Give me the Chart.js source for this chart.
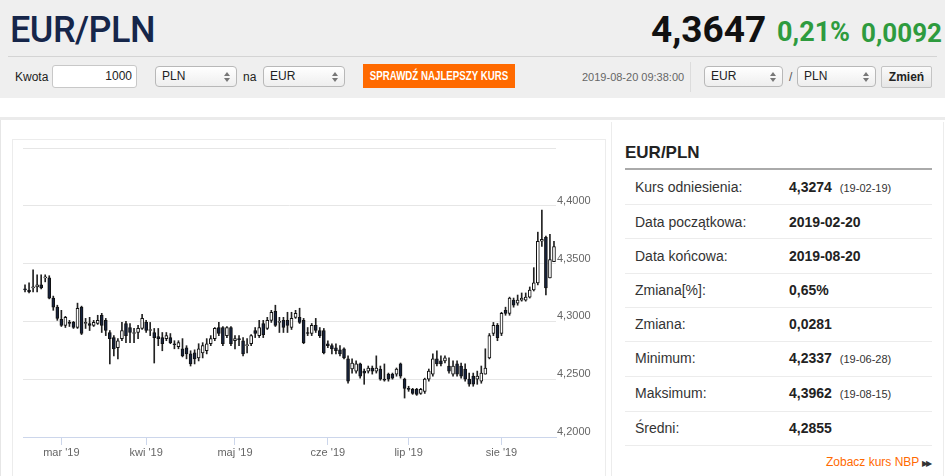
<!DOCTYPE html>
<html lang="pl">
<head>
<meta charset="utf-8">
<script src="https://cdn.jsdelivr.net/npm/chart.js@4.4.1/dist/chart.umd.min.js"></script>
<style>
  body{margin:0;width:945px;height:476px;overflow:hidden;background:#fff;position:relative;
       font-family:'Liberation Sans',Arial,sans-serif;color:#333}
  .abs{position:absolute}
  #head{left:0;top:0;width:945px;height:98px;background:#efefef}
  .big{font-family:Roboto,'Liberation Sans',sans-serif;line-height:1;white-space:nowrap}
  .sel{position:absolute;height:21px;border:1px solid #b8b8b8;border-radius:4px;box-sizing:border-box;
       background:linear-gradient(#ffffff,#eeeeee);font-size:12px;line-height:19px;padding-left:6px;color:#222}
  .sel::before,.sel::after{content:'';position:absolute;right:6px;border-left:3px solid transparent;border-right:3px solid transparent}
  .sel::before{top:5px;border-bottom:4px solid #777}
  .sel::after{top:11px;border-top:4px solid #777}
  .lbl{font-size:12px;line-height:14px;color:#222}
  .row-l{position:absolute;left:635px;font-size:14px;line-height:18px;color:#333}
  .row-v{position:absolute;left:789px;font-size:14px;line-height:18px;font-weight:bold;color:#222}
  .row-v small{font-size:11px;font-weight:normal;color:#333;margin-left:8px}
  .sep{position:absolute;left:625px;width:307px;height:1px;background:#ececec}
</style>
</head>
<body>
<div id="head" class="abs"></div>
<div class="abs big" style="left:10px;top:12px;font-size:36px;font-weight:500;color:#16264a;letter-spacing:-0.5px">EUR/PLN</div>
<div class="abs big" style="left:651px;top:11px;font-size:37px;font-weight:700;color:#111">4,3647</div>
<div class="abs big" style="left:777px;top:19px;font-size:27px;font-weight:700;color:#2e9b3e">0,21%</div>
<div class="abs big" style="left:861px;top:20px;font-size:26px;font-weight:700;color:#2e9b3e">0,0092</div>
<div class="abs" style="left:8px;top:56px;width:929px;height:1px;background:#d4d4d4"></div>

<div class="abs lbl" style="left:15px;top:70px">Kwota</div>
<div class="abs" style="left:52px;top:65px;width:85px;height:23px;box-sizing:border-box;border:1px solid #c8c8c8;border-radius:3px;background:#fff;font-size:12px;line-height:21px;text-align:right;padding-right:4px;color:#222">1000</div>
<div class="sel" style="left:155px;top:66px;width:82px">PLN</div>
<div class="abs lbl" style="left:243px;top:70px">na</div>
<div class="sel" style="left:263px;top:66px;width:82px">EUR</div>
<div class="abs" style="left:363px;top:64px;width:152px;height:24px;background:#ff6a00;overflow:hidden">
  <span style="position:absolute;left:50%;top:0;line-height:24px;white-space:nowrap;color:#fff;font-size:12px;font-weight:bold;transform:translateX(-50%) scaleX(0.81)">SPRAWDŹ NAJLEPSZY KURS</span>
</div>
<div class="abs" style="left:582px;top:71px;font-size:11px;line-height:13px;color:#666">2019-08-20 09:38:00</div>
<div class="abs" style="left:690px;top:62px;width:1px;height:30px;background:#dcdcdc"></div>
<div class="sel" style="left:704px;top:66px;width:79px">EUR</div>
<div class="abs lbl" style="left:789px;top:70px;color:#555">/</div>
<div class="sel" style="left:797px;top:66px;width:79px">PLN</div>
<div class="abs" style="left:881px;top:66px;width:51px;height:22px;box-sizing:border-box;border:1px solid #c4c4c4;border-radius:2px;background:linear-gradient(#fafafa,#e6e6e6);font-size:12px;font-weight:bold;line-height:20px;text-align:center;color:#222">Zmień</div>

<div class="abs" style="left:0;top:117px;width:945px;height:3px;background:#ebebeb"></div>
<div class="abs" style="left:0;top:120px;width:1px;height:356px;background:#e6e6e6"></div>
<div class="abs" style="left:12px;top:139px;width:594px;height:340px;box-sizing:border-box;border:1px solid #ececec;border-bottom:none"></div>
<canvas id="c" class="abs" width="594" height="330" style="left:12px;top:139px;width:594px;height:330px"></canvas>

<div class="abs" style="left:611px;top:122px;width:1px;height:354px;background:#ececec"></div>
<div class="abs" style="left:943px;top:122px;width:1px;height:354px;background:#ececec"></div>
<div class="abs" style="left:625px;top:143px;font-size:17px;line-height:20px;font-weight:bold;color:#222">EUR/PLN</div>
<div class="abs" style="left:625px;top:168px;width:307px;height:2px;background:#aaaaaa"></div>

<div class="row-l" style="top:178px">Kurs odniesienia:</div><div class="row-v" style="top:178px">4,3274<small>(19-02-19)</small></div>
<div class="sep" style="top:204px"></div>
<div class="row-l" style="top:213px">Data początkowa:</div><div class="row-v" style="top:213px">2019-02-20</div>
<div class="sep" style="top:238px"></div>
<div class="row-l" style="top:247px">Data końcowa:</div><div class="row-v" style="top:247px">2019-08-20</div>
<div class="sep" style="top:273px"></div>
<div class="row-l" style="top:281px">Zmiana[%]:</div><div class="row-v" style="top:281px">0,65%</div>
<div class="sep" style="top:307px"></div>
<div class="row-l" style="top:315px">Zmiana:</div><div class="row-v" style="top:315px">0,0281</div>
<div class="sep" style="top:341px"></div>
<div class="row-l" style="top:349px">Minimum:</div><div class="row-v" style="top:349px">4,2337<small>(19-06-28)</small></div>
<div class="sep" style="top:376px"></div>
<div class="row-l" style="top:384px">Maksimum:</div><div class="row-v" style="top:384px">4,3962<small>(19-08-15)</small></div>
<div class="sep" style="top:411px"></div>
<div class="row-l" style="top:419px">Średni:</div><div class="row-v" style="top:419px">4,2855</div>
<div class="sep" style="top:445px"></div>
<div class="abs" style="left:826px;top:455px;font-size:12px;line-height:14px;color:#ff6a00;white-space:nowrap">Zobacz kurs NBP <span style="color:#333;font-size:8px;letter-spacing:-2px">▶▶</span></div>

<script>
// trading days 2019-02-18 .. 2019-08-20 (weekdays)
const START = '2019-02-18', END = '2019-08-20';
const DATES = [];
for (let d = new Date(START + 'T00:00:00Z'); d <= new Date(END + 'T00:00:00Z'); d.setUTCDate(d.getUTCDate() + 1)) {
  const wd = d.getUTCDay();
  if (wd !== 0 && wd !== 6) DATES.push(d.toISOString().slice(0, 10));
}

const MONTH_STARTS = ['2019-03-01','2019-04-01','2019-05-01','2019-06-03','2019-07-01','2019-08-01'];
const MONTH_LABELS = ["mar '19","kwi '19","maj '19","cze '19","lip '19","sie '19"];

const OPEN = [
  4.3281,4.3272,4.3289,4.3298,4.3316,4.3377,4.3377,4.3202,4.3123,4.3018,
  4.2965,4.2991,4.2991,4.2947,4.3123,4.2982,4.2982,4.2965,4.2982,4.3053,
  4.3009,4.2904,4.2860,4.2772,4.2851,4.2982,4.2947,4.2895,4.2904,4.2939,
  4.2991,4.2921,4.2904,4.2868,4.2860,4.2851,4.2860,4.2807,4.2781,4.2763,
  4.2772,4.2719,4.2728,4.2684,4.2728,4.2746,4.2807,4.2851,4.2947,4.2947,
  4.2877,4.2947,4.2833,4.2851,4.2833,4.2790,4.2807,4.2921,4.2877,4.2982,
  4.2939,4.3009,4.3088,4.2991,4.3009,4.3009,4.2947,4.3035,4.3035,4.3009,
  4.2904,4.2895,4.2965,4.2921,4.2921,4.2807,4.2790,4.2772,4.2754,4.2763,
  4.2676,4.2588,4.2570,4.2632,4.2570,4.2570,4.2597,4.2570,4.2588,4.2500,
  4.2544,4.2544,4.2544,4.2632,4.2500,4.2421,4.2412,4.2412,4.2377,4.2395,
  4.2500,4.2544,4.2676,4.2658,4.2658,4.2614,4.2544,4.2632,4.2614,4.2588,
  4.2500,4.2526,4.2500,4.2483,4.2544,4.2684,4.2895,4.2965,4.2895,4.3096,
  4.3070,4.3184,4.3158,4.3184,4.3184,4.3210,4.3272,4.3333,4.3693,4.3728,
  4.3377,4.3517
];
const HIGH = [
  4.3316,4.3333,4.3447,4.3403,4.3403,4.3403,4.3395,4.3219,4.3140,4.3096,
  4.3044,4.3009,4.3000,4.3158,4.3132,4.3026,4.3035,4.3009,4.3053,4.3070,
  4.3026,4.2921,4.2877,4.2851,4.2991,4.3000,4.2982,4.2939,4.2965,4.3061,
  4.3009,4.2991,4.2939,4.2939,4.2904,4.2904,4.2895,4.2833,4.2833,4.2851,
  4.2790,4.2746,4.2754,4.2807,4.2816,4.2851,4.2877,4.2947,4.2991,4.2956,
  4.2956,4.2956,4.2877,4.2877,4.2860,4.2851,4.2886,4.2947,4.3009,4.3009,
  4.3035,4.3096,4.3140,4.3035,4.3035,4.3079,4.3079,4.3096,4.3114,4.3026,
  4.2947,4.2982,4.3026,4.2947,4.2939,4.2833,4.2807,4.2807,4.2790,4.2772,
  4.2702,4.2676,4.2658,4.2640,4.2588,4.2614,4.2614,4.2702,4.2614,4.2632,
  4.2553,4.2553,4.2597,4.2640,4.2509,4.2439,4.2421,4.2421,4.2421,4.2509,
  4.2588,4.2719,4.2746,4.2702,4.2702,4.2684,4.2658,4.2658,4.2640,4.2632,
  4.2553,4.2553,4.2570,4.2614,4.2763,4.2895,4.2991,4.2982,4.3079,4.3123,
  4.3210,4.3202,4.3228,4.3246,4.3246,4.3298,4.3465,4.3772,4.3962,4.3737,
  4.3754,4.3693
];
const LOW = [
  4.3254,4.3246,4.3254,4.3254,4.3281,4.3342,4.3195,4.3096,4.3009,4.2956,
  4.2947,4.2956,4.2939,4.2939,4.2886,4.2939,4.2921,4.2956,4.2974,4.2904,
  4.2877,4.2632,4.2702,4.2676,4.2833,4.2816,4.2816,4.2816,4.2851,4.2930,
  4.2904,4.2877,4.2640,4.2790,4.2746,4.2833,4.2807,4.2763,4.2763,4.2693,
  4.2676,4.2614,4.2632,4.2658,4.2684,4.2719,4.2790,4.2833,4.2877,4.2790,
  4.2860,4.2790,4.2763,4.2790,4.2702,4.2728,4.2790,4.2860,4.2860,4.2860,
  4.2930,4.2991,4.2956,4.2904,4.2904,4.2904,4.2930,4.3026,4.2982,4.2807,
  4.2877,4.2877,4.2904,4.2860,4.2719,4.2772,4.2719,4.2719,4.2702,4.2676,
  4.2465,4.2553,4.2553,4.2509,4.2456,4.2553,4.2544,4.2553,4.2491,4.2483,
  4.2483,4.2500,4.2526,4.2509,4.2337,4.2395,4.2369,4.2360,4.2369,4.2377,
  4.2483,4.2526,4.2614,4.2614,4.2640,4.2553,4.2526,4.2526,4.2509,4.2483,
  4.2439,4.2439,4.2456,4.2465,4.2544,4.2676,4.2877,4.2833,4.2877,4.3053,
  4.3053,4.3123,4.3140,4.3175,4.3175,4.3202,4.3263,4.3316,4.3649,4.3228,
  4.3377,4.3517
];
const CLOSE = [
  4.3272,4.3254,4.3298,4.3316,4.3289,4.3386,4.3202,4.3123,4.3026,4.2965,
  4.3035,4.2982,4.2947,4.3114,4.2895,4.2991,4.2965,4.2991,4.3009,4.2965,
  4.2921,4.2851,4.2763,4.2833,4.2921,4.2877,4.2904,4.2904,4.2939,4.3026,
  4.2921,4.2930,4.2860,4.2851,4.2807,4.2877,4.2816,4.2798,4.2816,4.2702,
  4.2719,4.2632,4.2676,4.2763,4.2790,4.2807,4.2851,4.2939,4.2895,4.2807,
  4.2947,4.2807,4.2851,4.2842,4.2719,4.2798,4.2877,4.2895,4.2947,4.2886,
  4.3009,4.3079,4.2965,4.3000,4.2947,4.2965,4.3026,4.3070,4.2991,4.2816,
  4.2895,4.2965,4.2921,4.2877,4.2728,4.2790,4.2763,4.2746,4.2719,4.2684,
  4.2483,4.2640,4.2632,4.2526,4.2553,4.2597,4.2570,4.2597,4.2500,4.2491,
  4.2500,4.2509,4.2588,4.2526,4.2421,4.2412,4.2377,4.2369,4.2412,4.2500,
  4.2570,4.2676,4.2632,4.2632,4.2684,4.2570,4.2614,4.2544,4.2526,4.2500,
  4.2456,4.2456,4.2526,4.2553,4.2597,4.2877,4.2965,4.2860,4.3070,4.3070,
  4.3202,4.3140,4.3184,4.3202,4.3210,4.3272,4.3333,4.3693,4.3710,4.3289,
  4.3535,4.3647
];

const UP_FILL = '#ffffff', DOWN_FILL = '#17233d', EDGE = '#111', WICK = '#222';
const fmtPl = v => v.toFixed(4).replace('.', ',');
const MONTH_IDX = MONTH_STARTS.map(d => DATES.indexOf(d));

new Chart(document.getElementById('c').getContext('2d'), {
  type: 'bar',
  data: {
    labels: DATES,
    datasets: [
      { label:'wick', data: LOW.map((l,i)=>[l, HIGH[i]]), backgroundColor: WICK,
        barThickness:1, grouped:false, order:2 },
      { label:'body', data: OPEN.map((o,i)=>[o, CLOSE[i]]),
        backgroundColor: CLOSE.map((c,i)=> c >= OPEN[i] ? UP_FILL : DOWN_FILL),
        borderColor: EDGE, borderWidth:1, borderSkipped:false,
        barThickness:3, minBarLength:1, grouped:false, order:1 }
    ]
  },
  options: {
    responsive:false, animation:false,
    layout:{ padding:{ left:11, top:9, right:0, bottom:0 } },
    plugins:{ legend:{display:false}, tooltip:{enabled:false} },
    scales:{
      x:{
        offset:true,
        grid:{ drawOnChartArea:false, offset:false, color:'#ccd6eb', tickLength:8 },
        border:{ color:'#ccd6eb' },
        afterBuildTicks: s => { s.ticks = s.ticks.filter(t => MONTH_IDX.includes(t.value)); },
        afterFit: s => { s.height = 32; },
        ticks:{ autoSkip:false, maxRotation:0, padding:1, color:'#666',
          font:{ size:11, family:"'Liberation Sans', Arial, sans-serif" },
          callback: v => MONTH_LABELS[MONTH_IDX.indexOf(v)] }
      },
      y:{
        position:'right', min:4.2, max:4.45,
        grid:{ color:'#e6e6e6', drawTicks:false },
        border:{ display:false },
        afterFit: s => { s.width = 50; },
        ticks:{ stepSize:0.05, padding:1, labelOffset:-5, color:'#666',
          font:{ size:11, family:"'Liberation Sans', Arial, sans-serif" },
          callback: v => v > 4.449 ? '' : fmtPl(v) }
      }
    }
  }
});
</script>
</body>
</html>
